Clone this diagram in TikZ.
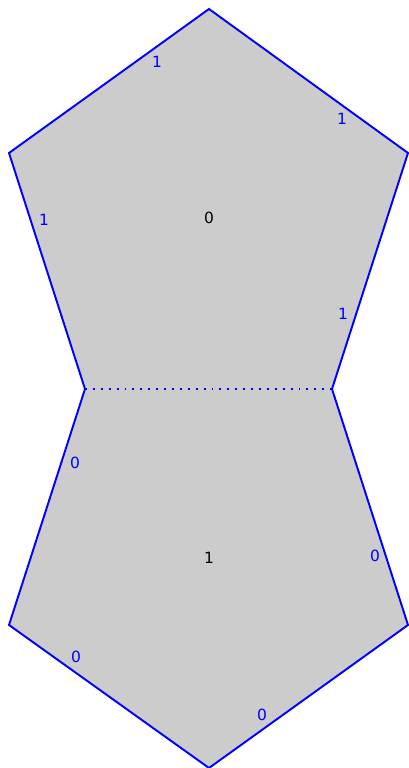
\documentclass[tikz,border=0pt]{standalone}
\usepackage{fontspec}
\setmainfont{DejaVu Sans}
\usetikzlibrary{positioning}

\begin{document}
\begin{tikzpicture}[x=1cm,y=1cm]
\tikzset{
  face/.style={fill=black!20,draw=none},
  rim/.style={draw=blue,line width=1.1pt,line join=miter},
  seam/.style={draw=blue,line width=1.1pt,dash pattern=on 1.1pt off 3.4pt},
  edgelabel/.style={text=blue,font=\fontsize{8.8}{10}\selectfont,inner sep=0pt},
  facelabel/.style={text=black,font=\fontsize{8.8}{10}\selectfont,inner sep=0pt}
}
\useasboundingbox (0,0) rectangle (8.16,15.36);
% vertices
\coordinate (v_T1) at (4.18,15.18);
\coordinate (v_T2) at (8.16,12.30);
\coordinate (v_T3) at (6.64,7.58);
\coordinate (v_T4) at (1.70,7.58);
\coordinate (v_T5) at (0.18,12.30);
\coordinate (v_B3) at (8.16,2.86);
\coordinate (v_B4) at (4.18,0.00);
\coordinate (v_B5) at (0.18,2.86);
% faces
\fill[face] (v_T1) -- (v_T2) -- (v_T3) -- (v_T4) -- (v_T5) -- cycle;
\fill[face] (v_T4) -- (v_T3) -- (v_B3) -- (v_B4) -- (v_B5) -- cycle;
% boundary
\draw[rim] (v_T4) -- (v_T5) -- (v_T1) -- (v_T2) -- (v_T3) -- (v_B3) -- (v_B4) -- (v_B5) -- cycle;
\draw[seam] (v_T4) -- (v_T3);
% labels
\node[facelabel] (f_top) at (4.18,11.00) {0};
\node[facelabel] (f_bot) at (4.18,4.20) {1};
\node[edgelabel] (e_T51) at (3.14,14.12) {1};
\node[edgelabel] (e_T12) at (6.84,12.98) {1};
\node[edgelabel] (e_T45) at (0.88,10.96) {1};
\node[edgelabel] (e_T23) at (6.86,9.08) {1};
\node[edgelabel] (e_B45) at (1.50,6.10) {0};
\node[edgelabel] (e_B33) at (7.50,4.24) {0};
\node[edgelabel] (e_B54) at (1.52,2.22) {0};
\node[edgelabel] (e_B43) at (5.24,1.06) {0};
\end{tikzpicture}
\end{document}
